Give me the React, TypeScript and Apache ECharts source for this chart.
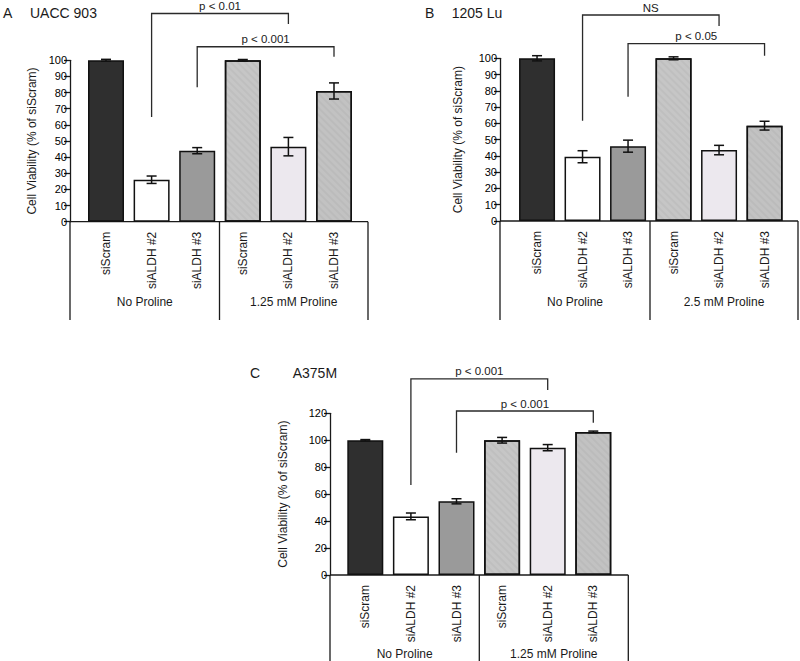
import React, { useEffect, useRef } from "react";
import * as echarts from "echarts";

const categories = ["siScram", "siALDH #2", "siALDH #3", "siScram", "siALDH #2", "siALDH #3"];
const barColors = ["#2f2f2f", "#ffffff", "#9a9a9a", "#c6c6c6", "#ece8ee", "#c2c2c2"];
const hatched = [false, false, false, true, false, true];

const valuesA = [100, 26, 44, 100, 46.5, 81];
const errorsA = [0.6, 2.3, 1.9, 0.5, 5.7, 5];
const valuesB = [100, 39.5, 46, 100, 43.6, 58.6];
const errorsB = [1.6, 3.7, 3.7, 0.9, 2.9, 2.7];
const valuesC = [100, 43.5, 54.7, 100, 94.5, 106.2];
const errorsC = [0.5, 2.5, 1.9, 2.1, 2.3, 0.6];

// [fromIndex, toIndex, leftLegBottom, rightLegBottom, top]
const bracketsA = [[1, 4, 64.8, 122.5, 129], [2, 5, 83.3, 102.2, 108.4]];
const bracketLabelsA = ["p < 0.01", "p < 0.001"];
const bracketsB = [[1, 4, 61.6, 119.8, 126.6], [2, 5, 76.4, 101.6, 109]];
const bracketLabelsB = ["NS", "p < 0.05"];
const bracketsC = [[1, 4, 66.8, 137.3, 145.5], [2, 5, 90.8, 113, 121.7]];
const bracketLabelsC = ["p < 0.001", "p < 0.001"];

const groupLabelsA = ["No Proline", "1.25 mM Proline"];
const groupLabelsB = ["No Proline", "2.5 mM Proline"];
const groupLabelsC = ["No Proline", "1.25 mM Proline"];

const FONT = "'Liberation Sans', Arial, Helvetica, sans-serif";
const yName = "Cell Viability (% of siScram)";

const panels = [
  {
    letter: "A", title: "UACC 903", letterX: 3, titleX: 30, titleY: 12.5,
    values: valuesA, errors: errorsA, brackets: bracketsA, bracketLabels: bracketLabelsA, groups: groupLabelsA,
    max: 100, interval: 10,
    axisX: 70, gridLeft: 83.2, gridWidth: 273.6, gridTop: 60.3, gridHeight: 161.4,
    sepX: 219.5, rightX: 368, frameBottom: 320, groupY: 301.7, nameX: 31.7,
  },
  {
    letter: "B", title: "1205 Lu", letterX: 425, titleX: 451.7, titleY: 12.5,
    values: valuesB, errors: errorsB, brackets: bracketsB, bracketLabels: bracketLabelsB, groups: groupLabelsB,
    max: 100, interval: 10,
    axisX: 500, gridLeft: 514.3, gridWidth: 273, gridTop: 58.3, gridHeight: 162.7,
    sepX: 650, rightX: 798, frameBottom: 320, groupY: 301.7, nameX: 458.3,
  },
  {
    letter: "C", title: "A375M", letterX: 250, titleX: 292.7, titleY: 373.3,
    values: valuesC, errors: errorsC, brackets: bracketsC, bracketLabels: bracketLabelsC, groups: groupLabelsC,
    max: 120, interval: 20,
    axisX: 330, gridLeft: 342.5, gridWidth: 273.6, gridTop: 413.3, gridHeight: 161.7,
    sepX: 479.3, rightX: 628.3, frameBottom: 661, groupY: 653.5, nameX: 283.3,
  },
];

function buildOption() {
  const grid: any[] = [];
  const xAxis: any[] = [];
  const yAxis: any[] = [];
  const series: any[] = [];
  const graphic: any[] = [];

  panels.forEach((p, gi) => {
    grid.push({ left: p.gridLeft, top: p.gridTop, width: p.gridWidth, height: p.gridHeight });
    xAxis.push({
      type: "category", gridIndex: gi, data: categories,
      axisLine: { show: false }, axisTick: { show: false },
      axisLabel: { rotate: 90, margin: 10, fontSize: 12, color: "#1a1a1a", fontFamily: FONT, interval: 0 },
    });
    yAxis.push({
      type: "value", gridIndex: gi, min: 0, max: p.max, interval: p.interval,
      offset: p.gridLeft - p.axisX,
      splitLine: { show: false },
      axisLine: { show: true, lineStyle: { color: "#1a1a1a", width: 1.3 } },
      axisTick: { show: true, length: 6, lineStyle: { color: "#1a1a1a", width: 1.3 } },
      axisLabel: { fontSize: 11, color: "#000000", fontFamily: FONT, margin: 3 },
    });
    series.push({
      type: "bar", xAxisIndex: gi, yAxisIndex: gi, barWidth: 36,
      data: p.values.map((v, i) => ({
        value: v,
        itemStyle: {
          color: barColors[i], borderColor: "#111", borderWidth: 1.5,
          decal: hatched[i]
            ? { symbol: "rect", color: "rgba(0,0,0,0.035)", dashArrayX: [1, 0], dashArrayY: [1.5, 2.5], rotation: Math.PI / 4, symbolSize: 1 }
            : "none",
        },
      })),
    });
    // error bars
    series.push({
      type: "custom", xAxisIndex: gi, yAxisIndex: gi, z: 5,
      data: p.values.map((v, i) => [i, v, p.errors[i]]),
      renderItem: (params: any, api: any) => {
        const x = api.value(0), m = api.value(1), e = api.value(2);
        const hi = api.coord([x, m + e]);
        const lo = api.coord([x, m - e]);
        const hw = 5;
        const st = { stroke: "#111", lineWidth: 1.5 };
        return {
          type: "group",
          children: [
            { type: "line", shape: { x1: hi[0], y1: hi[1], x2: lo[0], y2: lo[1] }, style: st },
            { type: "line", shape: { x1: hi[0] - hw, y1: hi[1], x2: hi[0] + hw, y2: hi[1] }, style: st },
            { type: "line", shape: { x1: lo[0] - hw, y1: lo[1], x2: lo[0] + hw, y2: lo[1] }, style: st },
          ],
        };
      },
    });
    // significance brackets
    const labels = p.bracketLabels;
    series.push({
      type: "custom", xAxisIndex: gi, yAxisIndex: gi, z: 6, clip: false,
      data: p.brackets,
      renderItem: (params: any, api: any) => {
        const x1 = api.value(0), x2 = api.value(1);
        const pL = api.coord([x1, api.value(2)]);
        const pR = api.coord([x2, api.value(3)]);
        const t1 = api.coord([x1, api.value(4)]);
        const t2 = api.coord([x2, api.value(4)]);
        return {
          type: "group",
          children: [
            { type: "polyline", shape: { points: [pL, t1, t2, pR] }, style: { stroke: "#2a2a2a", lineWidth: 1.3, fill: null } },
            {
              type: "text",
              style: {
                text: labels[params.dataIndex], x: (t1[0] + t2[0]) / 2, y: t1[1] - 1.5,
                align: "center", verticalAlign: "bottom", fontSize: 11.5, fontFamily: FONT, fill: "#1a1a1a",
              },
            },
          ],
        };
      },
    });

    const zeroY = p.gridTop + p.gridHeight;
    const ls = { stroke: "#1a1a1a", lineWidth: 1.3 };
    graphic.push(
      { type: "line", shape: { x1: p.axisX, y1: zeroY, x2: p.rightX, y2: zeroY }, style: ls },
      { type: "line", shape: { x1: p.axisX, y1: zeroY, x2: p.axisX, y2: p.frameBottom }, style: ls },
      { type: "line", shape: { x1: p.sepX, y1: zeroY, x2: p.sepX, y2: p.frameBottom }, style: ls },
      { type: "line", shape: { x1: p.rightX, y1: zeroY, x2: p.rightX, y2: p.frameBottom }, style: ls },
      { type: "text", x: (p.axisX + p.sepX) / 2, y: p.groupY, style: { text: p.groups[0], align: "center", verticalAlign: "middle", fontSize: 12, fontFamily: FONT, fill: "#1a1a1a" } },
      { type: "text", x: (p.sepX + p.rightX) / 2, y: p.groupY, style: { text: p.groups[1], align: "center", verticalAlign: "middle", fontSize: 12, fontFamily: FONT, fill: "#1a1a1a" } },
      { type: "text", x: p.letterX, y: p.titleY, style: { text: p.letter, align: "left", verticalAlign: "middle", fontSize: 14, fontFamily: FONT, fill: "#1a1a1a" } },
      { type: "text", x: p.titleX, y: p.titleY, style: { text: p.title, align: "left", verticalAlign: "middle", fontSize: 14, fontFamily: FONT, fill: "#1a1a1a" } },
      { type: "text", x: p.nameX, y: p.gridTop + p.gridHeight / 2, rotation: Math.PI / 2, style: { text: yName, align: "center", verticalAlign: "middle", fontSize: 12, fontFamily: FONT, fill: "#1a1a1a" } },
    );
  });

  return { animation: false, backgroundColor: "#ffffff", grid, xAxis, yAxis, series, graphic };
}

export default function App() {
  const ref = useRef<HTMLDivElement>(null);
  useEffect(() => {
    if (!ref.current) return;
    const chart = echarts.init(ref.current, undefined, { renderer: "svg" });
    chart.setOption(buildOption() as any);
    return () => chart.dispose();
  }, []);
  return <div ref={ref} style={{ position: "fixed", left: 0, top: 0, width: 800, height: 661, background: "#fff" }} />;
}
